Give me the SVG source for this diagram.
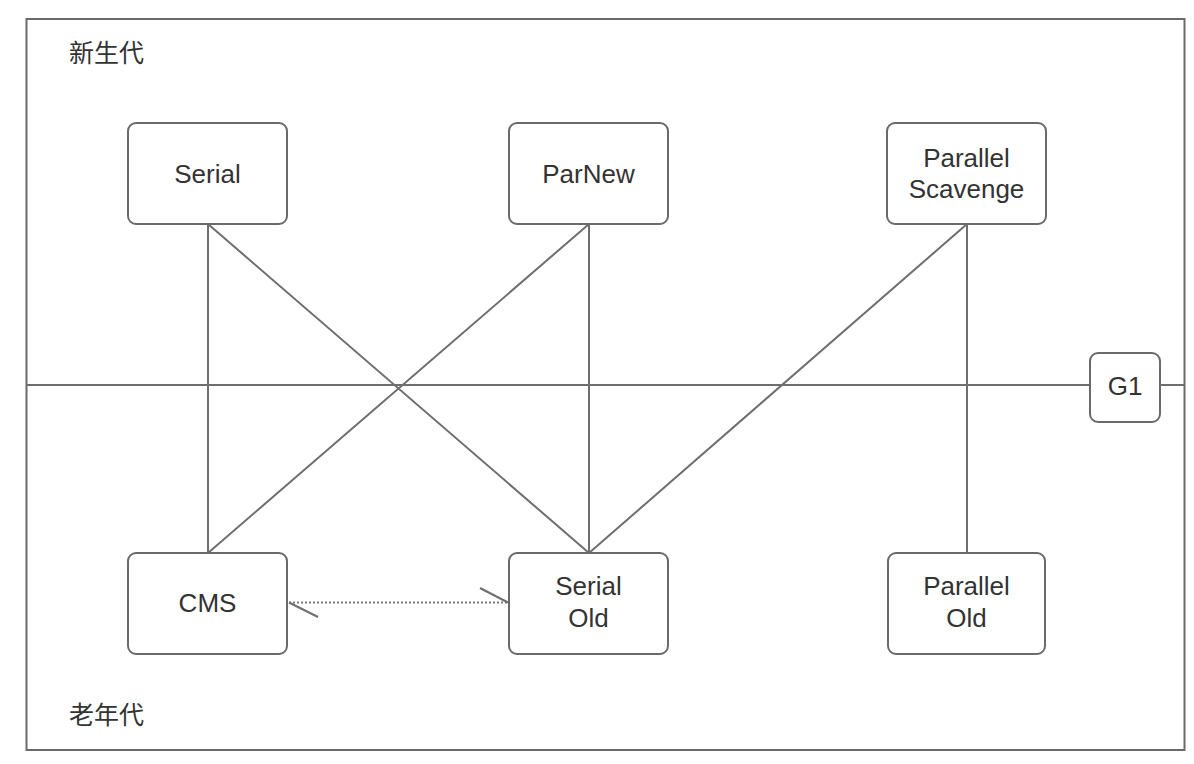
<svg xmlns="http://www.w3.org/2000/svg" width="1194" height="764" viewBox="0 0 1194 764">
<style>
.box{fill:#fff;stroke:#6a6a6a;stroke-width:2}
.ln{stroke:#6e6e6e;stroke-width:2;fill:none}
.dot{stroke:#7a7a7a;stroke-width:2;stroke-dasharray:2 2;fill:none}
.t{font-family:"Liberation Sans","Noto Sans",Arial,sans-serif;font-size:26px;fill:#333;text-anchor:middle}
.c{font-family:"Noto Sans CJK SC","Noto Sans",sans-serif;font-size:25px;fill:#333}
</style>
<rect x="0" y="0" width="1194" height="764" fill="#fff"/>
<g id="frame">
<rect x="26.5" y="19" width="1158" height="731" fill="none" stroke="#6a6a6a" stroke-width="2"/>
<text class="c" x="69" y="62">新生代</text>
<text class="c" x="69" y="724">老年代</text>
</g>
<g id="connectors">
<line class="ln" x1="26" y1="385" x2="1089" y2="385"/>
<line class="ln" x1="1161" y1="385" x2="1185" y2="385"/>
<line class="ln" x1="208" y1="224" x2="208" y2="553"/>
<line class="ln" x1="208" y1="224" x2="589" y2="553"/>
<line class="ln" x1="589" y1="224" x2="208" y2="553"/>
<line class="ln" x1="589" y1="224" x2="589" y2="553"/>
<line class="ln" x1="967" y1="224" x2="589" y2="553"/>
<line class="ln" x1="967" y1="224" x2="967" y2="553"/>
<line class="dot" x1="289" y1="602.5" x2="508" y2="602.5"/>
<line class="ln" x1="289" y1="602.5" x2="318" y2="617"/>
<line class="ln" x1="508" y1="602.5" x2="480" y2="588"/>
</g>
<g id="serial"><rect class="box" x="128" y="123" width="159" height="101" rx="8"/><text class="t" x="207.5" y="183">Serial</text></g>
<g id="parnew"><rect class="box" x="509" y="123" width="159" height="101" rx="8"/><text class="t" x="588.5" y="183">ParNew</text></g>
<g id="parallel-scavenge"><rect class="box" x="887" y="123" width="159" height="101" rx="8"/><text class="t" x="966.5" y="167">Parallel</text><text class="t" x="966.5" y="198">Scavenge</text></g>
<g id="g1"><rect class="box" x="1090" y="353" width="70" height="69" rx="8"/><text class="t" x="1125" y="395">G1</text></g>
<g id="cms"><rect class="box" x="128" y="553" width="159" height="101" rx="8"/><text class="t" x="207.5" y="612">CMS</text></g>
<g id="serial-old"><rect class="box" x="509" y="553" width="159" height="101" rx="8"/><text class="t" x="588.5" y="595">Serial</text><text class="t" x="588.5" y="627">Old</text></g>
<g id="parallel-old"><rect class="box" x="888" y="553" width="157" height="101" rx="8"/><text class="t" x="966.5" y="595">Parallel</text><text class="t" x="966.5" y="627">Old</text></g>
</svg>
